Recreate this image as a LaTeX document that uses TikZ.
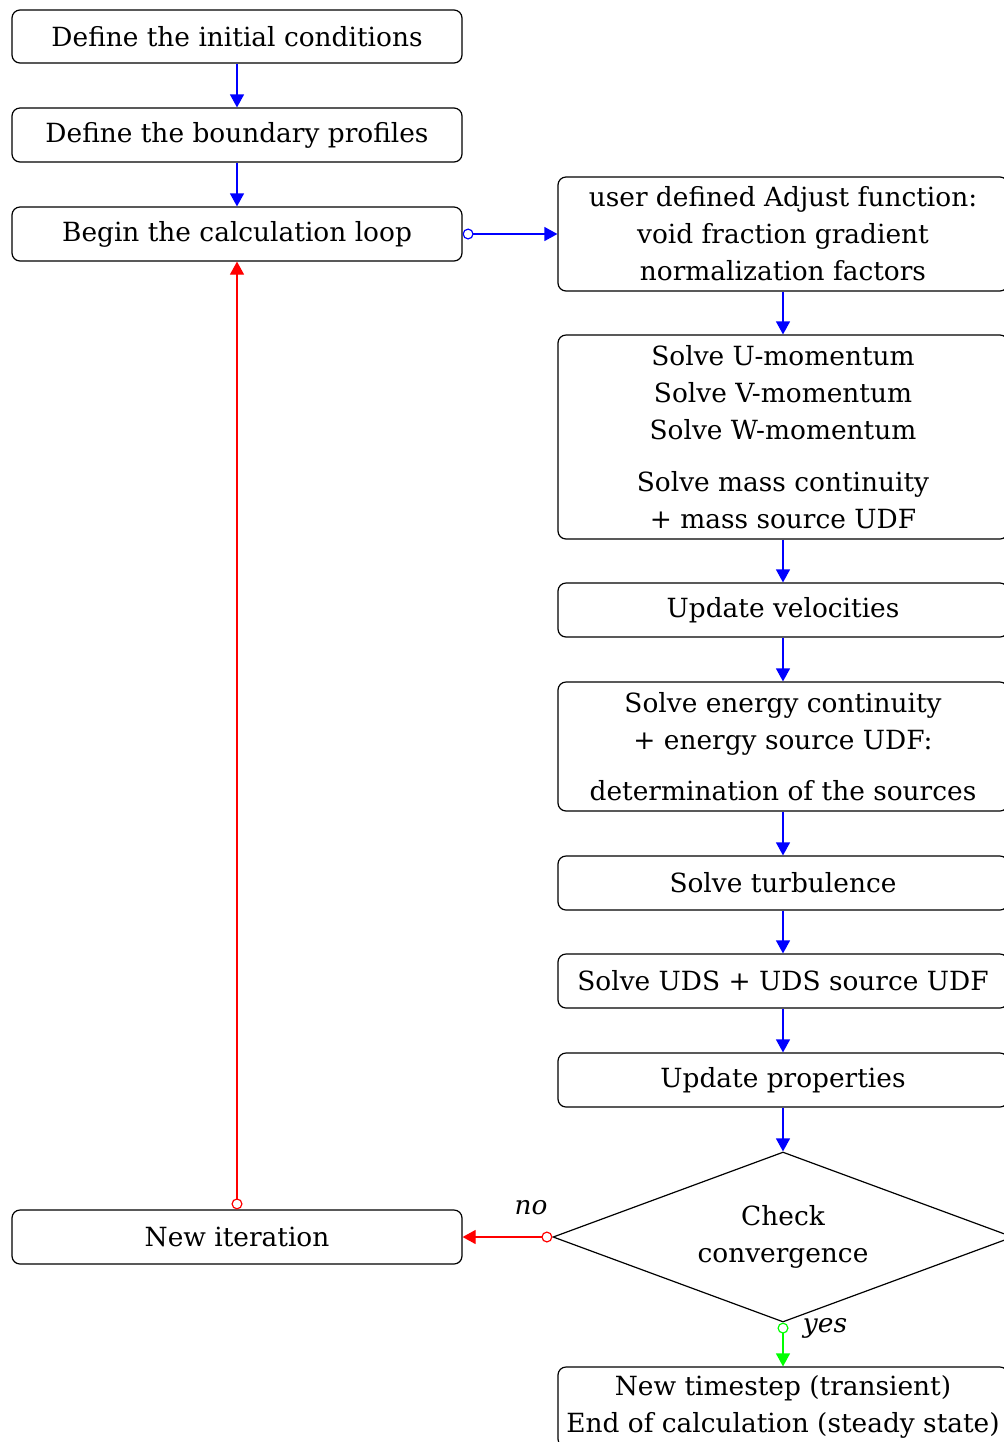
\documentclass[tikz,border=0pt]{standalone}
\usepackage{fontspec}
\setmainfont{DejaVu Serif}
\usetikzlibrary{arrows.meta,shapes.geometric}
\begin{document}
\begin{tikzpicture}[x=0.5pt,y=-0.5pt,
  font=\fontsize{13.2}{18.5}\selectfont,
  box/.style={draw=black, line width=0.6pt, rounded corners=4pt, minimum width=225pt, inner sep=0pt, align=center},
  tip/.style={-{Triangle[length=6.5pt,width=7pt]}},
  ctip/.style={{Circle[open,length=5.5pt,width=5.5pt]}-{Triangle[length=6.5pt,width=7pt]}},
  flowb/.style={draw=blue, line width=0.6pt, tip},
  flowc/.style={line width=0.6pt, ctip}]
\useasboundingbox (0,0) rectangle (1004,1442);
\clip (0,0) rectangle (1004,1442);
% left column
\node[box, minimum height=26.5pt] (b1) at (237,36.5) {Define the initial conditions};
\node[box, minimum height=27pt] (b2) at (237,135) {Define the boundary profiles};
\node[box, minimum height=27pt] (b3) at (237,234) {Begin the calculation loop};
\node[box, minimum height=27pt] (ni) at (237,1237) {New iteration};
% right column
\node[box, minimum height=57pt] (adj) at (783,234) {user defined Adjust function:\\ void fraction gradient\\ normalization factors};
\node[box, minimum height=102pt] (sol) at (783,437) {Solve U-momentum\\ Solve V-momentum\\ Solve W-momentum\\[7.5pt] Solve mass continuity\\ + mass source UDF};
\node[box, minimum height=27pt] (uv) at (783,610) {Update velocities};
\node[box, minimum height=64.5pt] (en) at (783,746.5) {Solve energy continuity\\ + energy source UDF:\\[7pt] determination of the sources};
\node[box, minimum height=27pt] (tu) at (783,883) {Solve turbulence};
\node[box, minimum height=27pt] (ud) at (783,981) {Solve UDS + UDS source UDF};
\node[box, minimum height=27pt] (up) at (783,1080) {Update properties};
\node[draw=black, line width=0.6pt, diamond, shape aspect=2.7, minimum width=230pt, minimum height=85pt, inner sep=0pt, align=center] (cc) at (783,1237) {Check\\ convergence};
\node[box, minimum height=40pt] (fin) at (783,1407) {New timestep (transient)\\ End of calculation (steady state)};
% connectors
\draw[flowb] (b1) -- (b2);
\draw[flowb] (b2) -- (b3);
\draw[flowc, draw=blue] (b3.east) -- (adj.west);
\draw[flowb] (adj) -- (sol);
\draw[flowb] (sol) -- (uv);
\draw[flowb] (uv) -- (en);
\draw[flowb] (en) -- (tu);
\draw[flowb] (tu) -- (ud);
\draw[flowb] (ud) -- (up);
\draw[flowb] (up) -- (cc.north);
\draw[flowc, draw=red] (cc.west) -- (ni.east);
\draw[flowc, draw=red] (ni.north) -- (b3.south);
\draw[flowc, draw=green] (cc.south) -- (fin.north);
% labels
\node[inner sep=0pt] (lno) at (531,1208) {\textit{no}};
\node[inner sep=0pt] (lyes) at (825,1328) {\textit{yes}};
\end{tikzpicture}
\end{document}
